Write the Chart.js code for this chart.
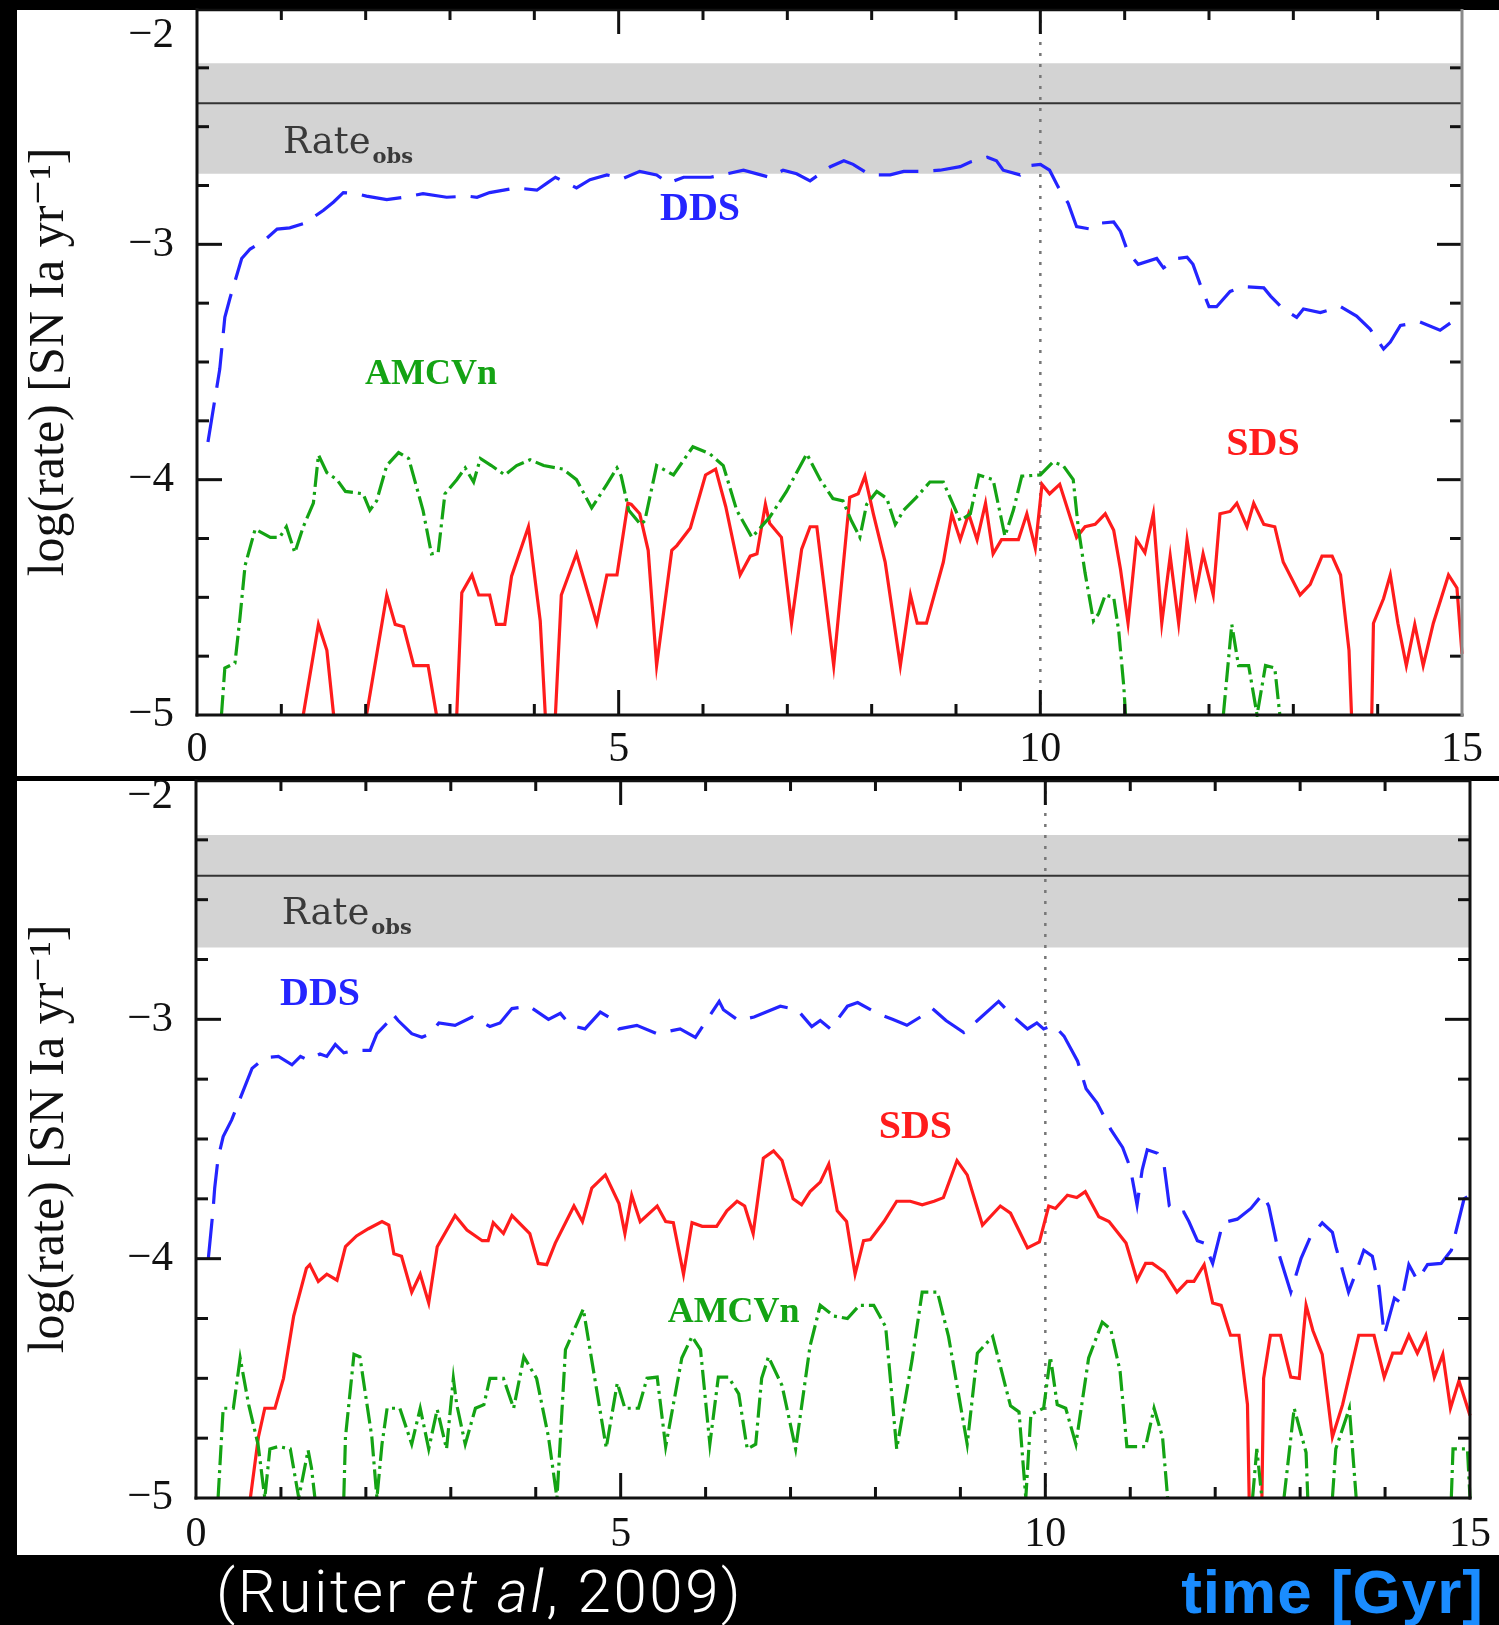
<!DOCTYPE html>
<html><head><meta charset="utf-8">
<script src="https://cdn.jsdelivr.net/npm/chart.js@4.4.1/dist/chart.umd.min.js"></script>
<style>
html,body{margin:0;padding:0;background:#000;}
body{width:1499px;height:1625px;position:relative;overflow:hidden;}
.panel{position:absolute;background:#fff;}
canvas{position:absolute;}
.cap{position:absolute;white-space:nowrap;line-height:60px;}
</style></head><body>
<div class="panel" style="left:17px;top:10px;width:1482px;height:766px"></div>
<div class="panel" style="left:17px;top:781px;width:1482px;height:774px"></div>
<canvas id="c1" width="1482" height="777" style="left:17px;top:0px"></canvas>
<canvas id="c2" width="1482" height="776" style="left:17px;top:779px"></canvas>
<div class="cap" style="left:216px;top:1556px;font:300 60px Roboto, 'Liberation Sans', sans-serif;letter-spacing:2.6px;color:#fff">(Ruiter <i>et al</i>, 2009)</div>
<div class="cap" style="right:15px;top:1556px;font:700 62px 'Liberation Sans', sans-serif;letter-spacing:1px;color:#1a8cff">time [Gyr]</div>
<script>
// ---------- tick labels ----------
const xTickValues = [0, 5, 10, 15];
const xTickLabels = ['0', '5', '10', '15'];
const yTickValues = [-5, -4, -3, -2];
const yTickLabels = ['\u22125', '\u22124', '\u22123', '\u22122'];
const yTitle = 'log(rate) [SN Ia yr\u207B\u00B9]';

// ---------- observed rate band ----------
const bandLow = -2.70, bandHigh = -2.23, bandMid = -2.40;

// ---------- TOP PANEL ----------
const topDDS_t = [0.13,0.27,0.33,0.39,0.53,0.63,0.81,0.95,1.10,1.28,1.34,1.50,1.62,1.735,1.89,2.01,2.25,2.45,2.68,2.96,3.20,3.32,3.47,3.79,4.03,4.15,4.25,4.50,4.66,4.86,5.05,5.25,5.45,5.59,5.77,6.09,6.48,6.79,6.95,7.11,7.27,7.51,7.67,7.78,7.98,8.22,8.38,8.61,8.81,9.05,9.17,9.37,9.48,9.56,9.76,9.88,10.0,10.11,10.21,10.33,10.43,10.59,10.71,10.87,10.95,11.04,11.16,11.38,11.46,11.62,11.74,11.81,11.89,12.0,12.09,12.25,12.41,12.65,12.73,12.88,13.04,13.12,13.32,13.56,13.75,13.91,14.07,14.15,14.27,14.50,14.74,14.86];
const topDDS_v = [-3.84,-3.53,-3.31,-3.23,-3.06,-3.02,-2.98,-2.935,-2.93,-2.91,-2.895,-2.855,-2.82,-2.78,-2.785,-2.795,-2.81,-2.80,-2.785,-2.80,-2.795,-2.80,-2.78,-2.76,-2.77,-2.74,-2.715,-2.76,-2.725,-2.705,-2.72,-2.69,-2.705,-2.74,-2.715,-2.715,-2.685,-2.715,-2.685,-2.70,-2.73,-2.67,-2.645,-2.66,-2.705,-2.705,-2.69,-2.69,-2.685,-2.67,-2.65,-2.63,-2.645,-2.685,-2.705,-2.665,-2.66,-2.685,-2.755,-2.825,-2.925,-2.935,-2.91,-2.905,-2.945,-3.035,-3.085,-3.06,-3.10,-3.06,-3.055,-3.085,-3.165,-3.265,-3.265,-3.20,-3.18,-3.185,-3.22,-3.275,-3.31,-3.275,-3.29,-3.265,-3.305,-3.36,-3.445,-3.415,-3.345,-3.33,-3.365,-3.335];

const topAMC_t = [0.29,0.33,0.45,0.51,0.57,0.69,0.87,0.98,1.06,1.16,1.26,1.38,1.44,1.54,1.66,1.76,1.97,2.05,2.13,2.25,2.39,2.51,2.68,2.78,2.86,2.94,3.08,3.18,3.28,3.36,3.49,3.65,3.79,3.95,4.11,4.34,4.50,4.68,4.86,4.98,5.03,5.12,5.26,5.31,5.45,5.65,5.88,6.08,6.24,6.40,6.58,6.79,6.99,7.23,7.39,7.54,7.66,7.76,7.86,7.94,8.06,8.18,8.28,8.38,8.53,8.69,8.85,9.05,9.17,9.27,9.44,9.58,9.68,9.78,10.0,10.15,10.27,10.39,10.45,10.53,10.63,10.69,10.77,10.87,10.93,10.99,11.01,11.6,12.17,12.27,12.35,12.47,12.57,12.67,12.78,12.84];
const topAMC_v = [-5.0,-4.80,-4.78,-4.585,-4.365,-4.21,-4.245,-4.245,-4.20,-4.31,-4.20,-4.10,-3.895,-3.97,-4.00,-4.05,-4.06,-4.13,-4.09,-3.94,-3.885,-3.91,-4.13,-4.315,-4.31,-4.06,-4.00,-3.95,-4.01,-3.91,-3.94,-3.98,-3.94,-3.915,-3.94,-3.955,-4.00,-4.12,-4.02,-3.95,-3.985,-4.13,-4.19,-4.175,-3.94,-3.98,-3.86,-3.89,-3.94,-4.13,-4.245,-4.16,-4.05,-3.89,-4.00,-4.08,-4.09,-4.175,-4.245,-4.105,-4.05,-4.08,-4.19,-4.13,-4.075,-4.01,-4.01,-4.175,-4.145,-3.98,-4.00,-4.24,-4.13,-3.985,-3.98,-3.925,-3.94,-4.00,-4.205,-4.395,-4.60,-4.57,-4.49,-4.50,-4.645,-4.88,-5.0,null,-5.0,-4.615,-4.79,-4.79,-5.0,-4.79,-4.80,-5.0];

const topSDS_t = [1.26,1.44,1.54,1.62,1.8,2.01,2.25,2.35,2.45,2.57,2.74,2.84,2.95,3.08,3.14,3.26,3.34,3.47,3.55,3.65,3.73,3.93,4.07,4.13,4.2,4.25,4.32,4.50,4.74,4.86,4.98,5.11,5.15,5.25,5.35,5.45,5.63,5.69,5.85,6.03,6.15,6.27,6.44,6.56,6.64,6.74,6.79,6.93,7.05,7.17,7.27,7.35,7.55,7.74,7.84,7.92,8.02,8.16,8.34,8.46,8.54,8.65,8.85,8.95,9.05,9.15,9.25,9.35,9.44,9.54,9.74,9.84,9.94,10.02,10.11,10.23,10.43,10.53,10.65,10.77,10.87,10.95,11.04,11.14,11.24,11.34,11.44,11.54,11.64,11.74,11.84,11.93,12.05,12.13,12.25,12.33,12.45,12.53,12.65,12.78,12.88,13.08,13.20,13.34,13.46,13.56,13.66,13.69,13.8,13.93,13.95,14.07,14.15,14.24,14.34,14.44,14.54,14.66,14.84,14.94,15.0];
const topSDS_v = [-5.0,-4.615,-4.725,-5.0,null,-5.0,-4.49,-4.615,-4.625,-4.79,-4.79,-5.0,null,-5.0,-4.48,-4.405,-4.49,-4.49,-4.615,-4.615,-4.41,-4.20,-4.60,-5.0,null,-5.0,-4.49,-4.315,-4.61,-4.405,-4.405,-4.10,-4.105,-4.145,-4.30,-4.79,-4.30,-4.28,-4.205,-3.98,-3.955,-4.115,-4.405,-4.325,-4.315,-4.105,-4.185,-4.245,-4.61,-4.295,-4.20,-4.20,-4.79,-4.075,-4.06,-3.985,-4.145,-4.35,-4.79,-4.49,-4.61,-4.61,-4.35,-4.145,-4.255,-4.145,-4.255,-4.10,-4.315,-4.255,-4.255,-4.145,-4.29,-4.02,-4.06,-4.02,-4.245,-4.20,-4.19,-4.145,-4.215,-4.38,-4.61,-4.255,-4.31,-4.145,-4.61,-4.325,-4.61,-4.255,-4.49,-4.315,-4.49,-4.145,-4.135,-4.10,-4.20,-4.10,-4.19,-4.20,-4.35,-4.49,-4.445,-4.325,-4.325,-4.405,-4.725,-5.0,null,-5.0,-4.61,-4.505,-4.405,-4.61,-4.79,-4.615,-4.79,-4.61,-4.405,-4.46,-4.74];

// ---------- BOTTOM PANEL ----------
const botDDS_t = [0.145,0.20,0.22,0.26,0.32,0.42,0.52,0.66,0.81,0.97,1.13,1.23,1.32,1.46,1.54,1.64,1.74,1.87,2.05,2.13,2.25,2.31,2.38,2.54,2.66,2.76,2.86,3.05,3.25,3.46,3.58,3.72,3.92,4.15,4.29,4.41,4.58,4.76,4.88,4.98,5.19,5.43,5.70,5.88,6.16,6.21,6.39,6.57,6.88,7.08,7.25,7.35,7.47,7.67,7.79,8.02,8.20,8.37,8.53,8.67,8.83,9.04,9.20,9.45,9.61,9.79,9.90,9.98,10.10,10.22,10.38,10.48,10.61,10.77,10.91,11.00,11.08,11.14,11.20,11.32,11.40,11.46,11.56,11.63,11.69,11.79,11.87,11.97,12.03,12.09,12.26,12.42,12.56,12.63,12.75,12.89,13.01,13.12,13.26,13.38,13.42,13.48,13.57,13.65,13.75,13.85,13.93,13.99,14.11,14.19,14.28,14.38,14.50,14.66,14.78,14.93,15.0];
const botDDS_v = [-4.00,-3.80,-3.705,-3.58,-3.49,-3.42,-3.33,-3.205,-3.16,-3.155,-3.19,-3.155,-3.17,-3.145,-3.155,-3.105,-3.14,-3.13,-3.13,-3.06,-3.015,-2.975,-3.005,-3.06,-3.075,-3.06,-3.015,-3.025,-2.99,-3.03,-3.015,-2.955,-2.945,-3.00,-2.975,-3.025,-3.04,-2.97,-2.995,-3.04,-3.025,-3.06,-3.04,-3.075,-2.925,-2.96,-3.005,-2.99,-2.945,-2.96,-3.03,-3.005,-3.04,-2.945,-2.93,-2.975,-3.00,-3.025,-2.99,-2.955,-3.005,-3.055,-3.005,-2.925,-2.985,-3.04,-3.015,-3.04,-3.025,-3.07,-3.175,-3.29,-3.35,-3.46,-3.535,-3.62,-3.775,-3.63,-3.545,-3.56,-3.615,-3.78,-3.81,-3.805,-3.845,-3.925,-3.935,-4.02,-3.935,-3.85,-3.835,-3.79,-3.73,-3.78,-3.98,-4.14,-4.00,-3.91,-3.85,-3.89,-3.95,-4.025,-4.14,-4.065,-3.965,-3.99,-4.12,-4.32,-4.165,-4.185,-4.025,-4.09,-4.025,-4.02,-3.965,-3.75,-3.735];

const botSDS_t = [0.64,0.735,0.81,0.93,1.03,1.15,1.30,1.34,1.44,1.54,1.66,1.76,1.89,2.03,2.19,2.27,2.33,2.42,2.54,2.64,2.74,2.84,3.05,3.19,3.37,3.44,3.50,3.62,3.72,3.93,4.03,4.13,4.23,4.45,4.55,4.66,4.82,4.98,5.05,5.13,5.23,5.43,5.53,5.62,5.74,5.84,5.96,6.13,6.25,6.37,6.46,6.56,6.68,6.80,6.90,7.03,7.13,7.23,7.35,7.45,7.55,7.66,7.76,7.86,7.94,8.10,8.25,8.41,8.55,8.69,8.80,8.96,9.08,9.26,9.47,9.59,9.79,9.93,10.04,10.12,10.26,10.37,10.47,10.63,10.75,10.95,11.08,11.18,11.26,11.40,11.55,11.67,11.75,11.87,11.97,12.07,12.18,12.28,12.38,12.40,12.48,12.55,12.57,12.65,12.77,12.89,12.99,13.07,13.15,13.26,13.38,13.50,13.69,13.87,13.99,14.09,14.19,14.28,14.38,14.48,14.58,14.68,14.77,14.87,15.0];
const botSDS_v = [-5.0,-4.745,-4.625,-4.625,-4.50,-4.24,-4.04,-4.025,-4.095,-4.065,-4.09,-3.95,-3.905,-3.875,-3.845,-3.86,-3.98,-3.99,-4.14,-4.065,-4.185,-3.95,-3.82,-3.88,-3.925,-3.925,-3.85,-3.895,-3.82,-3.895,-4.02,-4.025,-3.935,-3.78,-3.845,-3.705,-3.65,-3.77,-3.895,-3.735,-3.845,-3.78,-3.845,-3.85,-4.065,-3.85,-3.865,-3.865,-3.80,-3.76,-3.78,-3.895,-3.58,-3.55,-3.59,-3.75,-3.775,-3.72,-3.68,-3.605,-3.80,-3.845,-4.065,-3.925,-3.92,-3.845,-3.76,-3.76,-3.775,-3.76,-3.745,-3.59,-3.65,-3.86,-3.78,-3.81,-3.955,-3.93,-3.78,-3.79,-3.735,-3.745,-3.72,-3.825,-3.845,-3.935,-4.09,-4.02,-4.02,-4.055,-4.14,-4.095,-4.095,-4.025,-4.185,-4.195,-4.32,-4.32,-4.61,-5.0,null,-5.0,-4.50,-4.32,-4.32,-4.495,-4.50,-4.195,-4.30,-4.40,-4.745,-4.61,-4.32,-4.32,-4.495,-4.395,-4.395,-4.32,-4.395,-4.32,-4.495,-4.40,-4.625,-4.51,-4.655];

const botAMC_t = [0.26,0.32,0.44,0.52,0.62,0.73,0.81,0.87,0.97,1.11,1.21,1.32,1.36,1.40,1.6,1.74,1.76,1.86,1.93,2.07,2.13,2.19,2.25,2.40,2.54,2.64,2.74,2.84,2.95,3.03,3.07,3.17,3.29,3.39,3.46,3.62,3.74,3.86,4.01,4.15,4.25,4.35,4.56,4.83,4.96,5.05,5.21,5.31,5.43,5.53,5.72,5.84,5.94,6.05,6.15,6.27,6.39,6.49,6.59,6.66,6.74,6.90,7.06,7.23,7.35,7.51,7.67,7.81,7.98,8.12,8.25,8.43,8.55,8.73,8.86,9.08,9.20,9.38,9.59,9.69,9.77,9.83,9.98,10.06,10.14,10.24,10.36,10.51,10.67,10.77,10.88,10.96,11.18,11.28,11.38,11.44,12.0,12.44,12.49,12.55,12.7,12.81,12.93,13.07,13.09,13.2,13.38,13.42,13.58,13.66,14.2,14.78,14.80,14.97,15.0];
const botAMC_v = [-5.0,-4.625,-4.625,-4.415,-4.61,-4.775,-5.0,-4.795,-4.785,-4.795,-5.0,-4.80,-4.875,-5.0,null,-5.0,-4.745,-4.40,-4.41,-4.745,-5.0,-4.775,-4.625,-4.625,-4.775,-4.625,-4.795,-4.63,-4.795,-4.50,-4.61,-4.775,-4.625,-4.61,-4.50,-4.50,-4.625,-4.41,-4.50,-4.745,-5.0,-4.38,-4.21,-4.79,-4.52,-4.625,-4.625,-4.50,-4.495,-4.785,-4.415,-4.325,-4.38,-4.775,-4.495,-4.495,-4.565,-4.795,-4.775,-4.50,-4.41,-4.53,-4.795,-4.365,-4.195,-4.24,-4.25,-4.195,-4.195,-4.285,-4.795,-4.425,-4.14,-4.14,-4.325,-4.775,-4.395,-4.325,-4.615,-4.64,-5.0,-4.65,-4.625,-4.41,-4.61,-4.625,-4.775,-4.415,-4.265,-4.295,-4.47,-4.785,-4.785,-4.625,-4.745,-5.0,null,-5.0,-4.795,-5.0,null,-5.0,-4.625,-4.81,-5.0,null,-5.0,-4.795,-4.625,-5.0,null,-5.0,-4.795,-4.795,-5.0];

// ---------- helpers ----------
function pts(ts, vs) { return ts.map((t, i) => ({ x: t, y: vs[i] })); }

const COLORS = { dds: '#2424ff', sds: '#ff1c1c', amc: '#14a314', band: '#d3d3d3', mid: '#333333', dot: '#777777', ink: '#111111' };
const SERIF = "'Liberation Serif', 'DejaVu Serif', serif";

const frameTicks = {
  id: 'frameTicks',
  afterDatasetsDraw(chart, args, o) {
    const { ctx, chartArea: a, scales: { x, y } } = chart;
    ctx.save();
    ctx.strokeStyle = COLORS.ink;
    ctx.lineCap = 'butt';
    const seg = (x1, y1, x2, y2, w) => { ctx.lineWidth = w; ctx.beginPath(); ctx.moveTo(x1, y1); ctx.lineTo(x2, y2); ctx.stroke(); };
    for (let t = 1; t < 15; t++) {
      const px = x.getPixelForValue(t);
      const L = t % 5 === 0 ? 25 : 11;
      seg(px, a.bottom, px, a.bottom - L, 3);
      seg(px, a.top, px, a.top + L, 3);
    }
    for (let k = 1; k < 12; k++) {
      const v = -5 + k * 0.25;
      const py = y.getPixelForValue(v);
      const L = k % 4 === 0 ? 25 : 12;
      seg(a.left, py, a.left + L, py, 3);
      seg(a.right, py, a.right - L, py, 3);
    }
    // frame
    seg(a.left - 1.5, a.bottom, a.right + 1.5, a.bottom, 3);
    seg(a.left, a.top - 1, a.left, a.bottom + 1.5, 3);
    seg(a.left, a.top + 1, a.right, a.top + 1, 2.5);
    ctx.strokeStyle = o.rightColor || COLORS.ink;
    seg(a.right, a.top, a.right, a.bottom + 1.5, 3);
    // top tick label (-2), drawn slightly below the top edge as in the original
    ctx.fillStyle = COLORS.ink;
    ctx.font = '43px ' + SERIF;
    ctx.textAlign = 'right';
    ctx.textBaseline = 'middle';
    ctx.fillText(yTickLabels[3], a.left - 23, y.getPixelForValue(yTickValues[3]) + o.topLabelDy);
    ctx.restore();
  }
};

const textLabels = {
  id: 'textLabels',
  afterDatasetsDraw(chart, args, o) {
    const { ctx, scales: { x, y } } = chart;
    ctx.save();
    for (const L of o.items) {
      ctx.font = L.font;
      ctx.fillStyle = L.color;
      ctx.textAlign = L.align || 'center';
      ctx.textBaseline = L.baseline || 'middle';
      const px = x.getPixelForValue(L.t), py = y.getPixelForValue(L.v);
      ctx.fillText(L.text, px, py);
      if (L.sub) {
        const w = ctx.measureText(L.text).width;
        ctx.font = L.subFont;
        ctx.textAlign = 'left';
        ctx.fillText(L.sub, px + w + 2, py + L.subDy);
      }
    }
    ctx.restore();
  }
};

function makeChart(id, s, lay) {
  const datasets = [
    { label: 'DDS', data: pts(s.ddsT, s.ddsV), borderColor: COLORS.dds, borderWidth: 3.2, borderDash: [40, 15], pointRadius: 0, tension: 0, fill: false, clip: 2 },
    { label: 'AMCVn', data: pts(s.amcT, s.amcV), borderColor: COLORS.amc, borderWidth: 3.2, borderDash: [20, 5, 3, 5], pointRadius: 0, tension: 0, fill: false, clip: 2 },
    { label: 'SDS', data: pts(s.sdsT, s.sdsV), borderColor: COLORS.sds, borderWidth: 3.2, pointRadius: 0, tension: 0, fill: false, clip: 2 },
    { label: 't10', data: pts([10, 10], [-2, -5]), borderColor: COLORS.dot, borderWidth: 2.5, borderDash: [3, 8], pointRadius: 0, fill: false },
    { label: 'mid', data: pts([0, 15], [bandMid, bandMid]), borderColor: COLORS.mid, borderWidth: 2, pointRadius: 0, fill: false },
    { label: 'bandHigh', data: pts([0, 15], [bandHigh, bandHigh]), borderWidth: 0, borderColor: 'rgba(0,0,0,0)', backgroundColor: COLORS.band, pointRadius: 0, fill: '+1' },
    { label: 'bandLow', data: pts([0, 15], [bandLow, bandLow]), borderWidth: 0, borderColor: 'rgba(0,0,0,0)', pointRadius: 0, fill: false }
  ];
  return new Chart(document.getElementById(id), {
    type: 'line',
    data: { datasets },
    plugins: [textLabels, frameTicks],
    options: {
      responsive: false, animation: false, devicePixelRatio: 1,
      layout: { padding: { top: lay.top, right: lay.right, left: 0, bottom: 0 } },
      plugins: {
        legend: { display: false }, tooltip: { enabled: false },
        textLabels: { items: s.labels },
        frameTicks: { topLabelDy: lay.topLabelDy, rightColor: lay.rightColor }
      },
      scales: {
        x: {
          type: 'linear', min: 0, max: 15,
          grid: { display: false, drawTicks: false }, border: { display: false },
          ticks: { stepSize: 5, padding: lay.xPad, color: COLORS.ink, maxRotation: 0, autoSkip: false,
            font: { family: SERIF, size: 42 },
            callback: v => { const i = xTickValues.indexOf(v); return i < 0 ? null : xTickLabels[i]; } },
          afterFit(sc) { sc.height = lay.xH; sc.paddingLeft = 0; sc.paddingRight = 0; }
        },
        y: {
          type: 'linear', min: -5, max: -2,
          grid: { display: false, drawTicks: false }, border: { display: false },
          ticks: { stepSize: 1, padding: 23, color: COLORS.ink, autoSkip: false,
            font: { family: SERIF, size: 43 },
            callback: v => { if (v === -2) return null; const i = yTickValues.indexOf(v); return i < 0 ? null : yTickLabels[i]; } },
          title: { display: true, text: yTitle, color: COLORS.ink, font: { family: SERIF, size: 50 }, padding: { top: 3, bottom: 0 } },
          afterFit(sc) { sc.width = lay.yW; sc.paddingTop = 0; sc.paddingBottom = 0; }
        }
      }
    }
  });
}

const labelStyle = {
  rate: '37px ' + "'DejaVu Serif', serif",
  sub: 'bold 21px ' + "'DejaVu Serif', serif",
  name: 'bold 40px ' + SERIF,
  amc: 'bold 36px ' + SERIF
};

makeChart('c1', {
  ddsT: topDDS_t, ddsV: topDDS_v, sdsT: topSDS_t, sdsV: topSDS_v, amcT: topAMC_t, amcV: topAMC_v,
  labels: [
    { text: 'Rate', sub: 'obs', t: 1.02, v: -2.614, font: labelStyle.rate, subFont: labelStyle.sub, subDy: 10, color: '#3a3a3a', align: 'left', baseline: 'alphabetic' },
    { text: 'DDS', t: 5.965, v: -2.851, font: labelStyle.name, color: COLORS.dds },
    { text: 'AMCVn', t: 2.775, v: -3.556, font: labelStyle.amc, color: COLORS.amc },
    { text: 'SDS', t: 12.64, v: -3.853, font: labelStyle.name, color: COLORS.sds }
  ]
}, { top: 9, right: 37, xH: 62, yW: 180, xPad: 10, topLabelDy: 27, rightColor: '#8a8a8a' });

makeChart('c2', {
  ddsT: botDDS_t, ddsV: botDDS_v, sdsT: botSDS_t, sdsV: botSDS_v, amcT: botAMC_t, amcV: botAMC_v,
  labels: [
    { text: 'Rate', sub: 'obs', t: 1.01, v: -2.602, font: labelStyle.rate, subFont: labelStyle.sub, subDy: 10, color: '#3a3a3a', align: 'left', baseline: 'alphabetic' },
    { text: 'DDS', t: 1.46, v: -2.898, font: labelStyle.name, color: COLORS.dds },
    { text: 'SDS', t: 8.47, v: -3.454, font: labelStyle.name, color: COLORS.sds },
    { text: 'AMCVn', t: 6.33, v: -4.227, font: labelStyle.amc, color: COLORS.amc }
  ]
}, { top: 1, right: 29, xH: 57, yW: 179, xPad: 12, topLabelDy: 17, rightColor: '#111111' });
</script>
</body></html>
